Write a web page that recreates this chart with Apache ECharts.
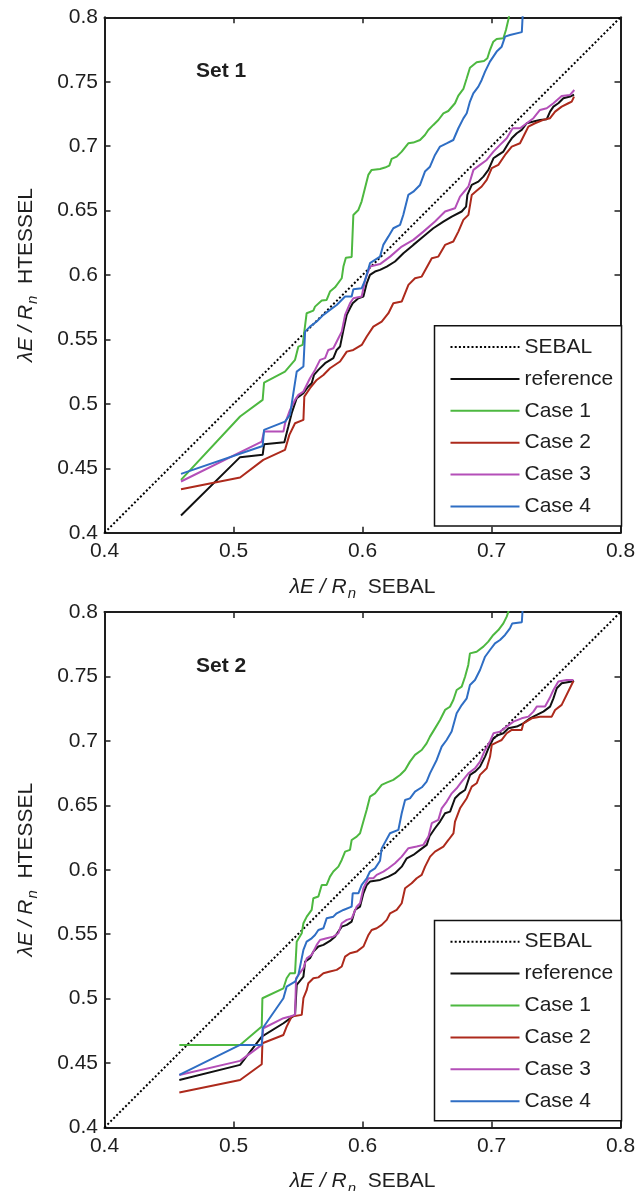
<!DOCTYPE html>
<html><head><meta charset="utf-8">
<script src="https://cdn.jsdelivr.net/npm/echarts@6/dist/echarts.min.js"></script>
<style>html,body{margin:0;padding:0;background:#fff}#c{width:638px;height:1191px}</style>
</head><body><div id="c"></div>
<script>
// ---------- data ----------
const xTicks = [0.4, 0.5, 0.6, 0.7, 0.8];
const yTicks = [0.4, 0.45, 0.5, 0.55, 0.6, 0.65, 0.7, 0.75, 0.8];
const seriesNames = ['SEBAL', 'reference', 'Case 1', 'Case 2', 'Case 3', 'Case 4'];
const panelTitles = ['Set 1', 'Set 2'];
const sebalLine = [[0.4, 0.4], [0.8, 0.8]];

const set1Ref = [[0.4593,0.4134],[0.5051,0.4587],[0.5226,0.4605],[0.5237,0.4687],[0.5394,0.4703],[0.5425,0.4824],[0.5451,0.4928],[0.5490,0.5045],[0.5542,0.5083],[0.5580,0.5135],[0.5606,0.5161],[0.5624,0.5225],[0.5658,0.5264],[0.5710,0.5316],[0.5774,0.5355],[0.5800,0.5419],[0.5826,0.5445],[0.5852,0.5574],[0.5878,0.5691],[0.5903,0.5742],[0.5924,0.5781],[0.5968,0.5820],[0.6007,0.5833],[0.6033,0.5936],[0.6058,0.6001],[0.6097,0.6027],[0.6136,0.6040],[0.6188,0.6066],[0.6252,0.6105],[0.6317,0.6169],[0.6394,0.6234],[0.6472,0.6299],[0.6549,0.6363],[0.6627,0.6415],[0.6692,0.6454],[0.6769,0.6493],[0.6803,0.6531],[0.6813,0.6622],[0.6847,0.6699],[0.6898,0.6725],[0.6937,0.6764],[0.6976,0.6816],[0.7015,0.6906],[0.7053,0.6932],[0.7092,0.6958],[0.7131,0.7023],[0.7157,0.7061],[0.7196,0.7100],[0.7234,0.7126],[0.7273,0.7178],[0.7325,0.7191],[0.7376,0.7204],[0.7428,0.7209],[0.7454,0.7268],[0.7480,0.7307],[0.7518,0.7333],[0.7557,0.7372],[0.7609,0.7385],[0.7640,0.7400]];
const set1Case1 = [[0.4593,0.4411],[0.5051,0.4902],[0.5226,0.5031],[0.5237,0.5166],[0.5399,0.5251],[0.5477,0.5342],[0.5503,0.5445],[0.5536,0.5458],[0.5567,0.5704],[0.5619,0.5724],[0.5632,0.5755],[0.5684,0.5802],[0.5722,0.5807],[0.5748,0.5872],[0.5787,0.5905],[0.5839,0.5975],[0.5852,0.6066],[0.5871,0.6135],[0.5916,0.6140],[0.5929,0.6466],[0.5968,0.6505],[0.5993,0.6570],[0.6019,0.6673],[0.6045,0.6777],[0.6071,0.6816],[0.6136,0.6823],[0.6174,0.6834],[0.6208,0.6849],[0.6226,0.6901],[0.6265,0.6919],[0.6304,0.6958],[0.6355,0.7022],[0.6394,0.7028],[0.6446,0.7048],[0.6484,0.7087],[0.6510,0.7126],[0.6549,0.7165],[0.6588,0.7203],[0.6627,0.7255],[0.6665,0.7273],[0.6717,0.7333],[0.6743,0.7392],[0.6782,0.7444],[0.6808,0.7527],[0.6833,0.7609],[0.6885,0.7651],[0.6942,0.7661],[0.6968,0.7682],[0.6988,0.7746],[0.7014,0.7811],[0.7040,0.7832],[0.7092,0.7837],[0.7112,0.7902],[0.7130,0.7979],[0.7150,0.8080]];
const set1Case2 = [[0.4593,0.4338],[0.5051,0.4429],[0.5231,0.4566],[0.5399,0.4643],[0.5433,0.4760],[0.5477,0.4850],[0.5542,0.4876],[0.5549,0.5057],[0.5593,0.5122],[0.5645,0.5186],[0.5697,0.5225],[0.5748,0.5277],[0.5826,0.5329],[0.5878,0.5406],[0.5929,0.5419],[0.5994,0.5458],[0.6033,0.5523],[0.6084,0.5600],[0.6149,0.5639],[0.6201,0.5704],[0.6239,0.5781],[0.6304,0.5794],[0.6356,0.5924],[0.6407,0.5975],[0.6459,0.5988],[0.6537,0.6131],[0.6588,0.6143],[0.6640,0.6234],[0.6704,0.6260],[0.6743,0.6337],[0.6782,0.6428],[0.6821,0.6467],[0.6847,0.6622],[0.6880,0.6650],[0.6924,0.6687],[0.6963,0.6738],[0.7002,0.6829],[0.7053,0.6855],[0.7105,0.6932],[0.7157,0.6997],[0.7221,0.7023],[0.7260,0.7100],[0.7286,0.7152],[0.7337,0.7178],[0.7402,0.7204],[0.7454,0.7217],[0.7493,0.7268],[0.7544,0.7307],[0.7596,0.7333],[0.7622,0.7346],[0.7640,0.7385]];
const set1Case3 = [[0.4593,0.4398],[0.5219,0.4708],[0.5237,0.4786],[0.5387,0.4786],[0.5400,0.4850],[0.5438,0.4954],[0.5477,0.5031],[0.5503,0.5070],[0.5542,0.5096],[0.5593,0.5199],[0.5632,0.5264],[0.5671,0.5342],[0.5710,0.5355],[0.5735,0.5419],[0.5774,0.5432],[0.5813,0.5510],[0.5839,0.5561],[0.5865,0.5691],[0.5903,0.5781],[0.5929,0.5820],[0.5994,0.5833],[0.6020,0.5962],[0.6058,0.6066],[0.6136,0.6085],[0.6214,0.6143],[0.6304,0.6221],[0.6394,0.6273],[0.6472,0.6337],[0.6562,0.6415],[0.6640,0.6493],[0.6717,0.6518],[0.6756,0.6609],[0.6821,0.6687],[0.6860,0.6816],[0.6911,0.6855],[0.6963,0.6893],[0.7015,0.6958],[0.7066,0.7010],[0.7118,0.7061],[0.7164,0.7139],[0.7221,0.7139],[0.7273,0.7178],[0.7325,0.7217],[0.7376,0.7281],[0.7428,0.7294],[0.7480,0.7333],[0.7544,0.7390],[0.7609,0.7398],[0.7642,0.7436]];
const set1Case4 = [[0.4593,0.4457],[0.5226,0.4674],[0.5237,0.4799],[0.5399,0.4863],[0.5438,0.4915],[0.5490,0.5251],[0.5542,0.5290],[0.5555,0.5561],[0.5593,0.5600],[0.5645,0.5639],[0.5697,0.5691],[0.5748,0.5730],[0.5800,0.5768],[0.5865,0.5833],[0.5916,0.5833],[0.5929,0.5890],[0.5994,0.5898],[0.6020,0.5960],[0.6058,0.6092],[0.6097,0.6118],[0.6136,0.6143],[0.6161,0.6234],[0.6200,0.6298],[0.6239,0.6363],[0.6291,0.6389],[0.6316,0.6466],[0.6355,0.6622],[0.6394,0.6647],[0.6446,0.6699],[0.6484,0.6803],[0.6523,0.6841],[0.6562,0.6932],[0.6601,0.6997],[0.6652,0.7022],[0.6704,0.7048],[0.6743,0.7139],[0.6782,0.7216],[0.6808,0.7255],[0.6833,0.7346],[0.6859,0.7410],[0.6898,0.7462],[0.6924,0.7514],[0.6950,0.7578],[0.6988,0.7656],[0.7040,0.7734],[0.7079,0.7772],[0.7105,0.7850],[0.7143,0.7863],[0.7235,0.7885],[0.7245,0.8080]];

const set2Ref = [[0.4580,0.4369],[0.5051,0.4486],[0.5219,0.4705],[0.5387,0.4809],[0.5477,0.4874],[0.5490,0.5106],[0.5542,0.5171],[0.5555,0.5287],[0.5593,0.5313],[0.5619,0.5365],[0.5658,0.5404],[0.5697,0.5417],[0.5748,0.5448],[0.5787,0.5481],[0.5839,0.5559],[0.5878,0.5572],[0.5916,0.5598],[0.5942,0.5688],[0.5981,0.5714],[0.6007,0.5817],[0.6033,0.5882],[0.6058,0.5908],[0.6136,0.5921],[0.6201,0.5947],[0.6252,0.5973],[0.6304,0.6024],[0.6343,0.6089],[0.6394,0.6115],[0.6446,0.6154],[0.6498,0.6193],[0.6520,0.6260],[0.6562,0.6322],[0.6601,0.6374],[0.6640,0.6438],[0.6679,0.6451],[0.6717,0.6555],[0.6756,0.6593],[0.6795,0.6619],[0.6834,0.6736],[0.6872,0.6761],[0.6911,0.6800],[0.6950,0.6878],[0.6976,0.6942],[0.7015,0.7020],[0.7053,0.7046],[0.7092,0.7059],[0.7131,0.7098],[0.7196,0.7111],[0.7247,0.7136],[0.7299,0.7175],[0.7351,0.7201],[0.7402,0.7227],[0.7454,0.7266],[0.7480,0.7330],[0.7506,0.7408],[0.7544,0.7447],[0.7622,0.7460],[0.7640,0.7465]];
const set2Case1 = [[0.4580,0.4641],[0.5051,0.4641],[0.5219,0.4783],[0.5224,0.5003],[0.5387,0.5080],[0.5412,0.5158],[0.5438,0.5197],[0.5477,0.5197],[0.5490,0.5442],[0.5529,0.5507],[0.5542,0.5585],[0.5568,0.5636],[0.5606,0.5688],[0.5619,0.5779],[0.5658,0.5792],[0.5684,0.5882],[0.5722,0.5882],[0.5748,0.5947],[0.5774,0.5986],[0.5813,0.6024],[0.5839,0.6076],[0.5865,0.6141],[0.5903,0.6154],[0.5916,0.6231],[0.5955,0.6257],[0.5981,0.6283],[0.6006,0.6373],[0.6032,0.6464],[0.6058,0.6567],[0.6097,0.6593],[0.6149,0.6658],[0.6187,0.6676],[0.6239,0.6697],[0.6291,0.6735],[0.6330,0.6774],[0.6368,0.6839],[0.6407,0.6891],[0.6459,0.6929],[0.6497,0.6981],[0.6523,0.7033],[0.6562,0.7097],[0.6601,0.7162],[0.6640,0.7240],[0.6678,0.7265],[0.6704,0.7317],[0.6730,0.7395],[0.6769,0.7421],[0.6795,0.7498],[0.6820,0.7589],[0.6833,0.7679],[0.6885,0.7692],[0.6937,0.7731],[0.6975,0.7770],[0.7014,0.7822],[0.7053,0.7860],[0.7092,0.7912],[0.7118,0.7964],[0.7150,0.8060]];
const set2Case2 = [[0.4580,0.4271],[0.5051,0.4369],[0.5219,0.4491],[0.5224,0.4654],[0.5387,0.4718],[0.5412,0.4783],[0.5451,0.4861],[0.5529,0.4874],[0.5542,0.5003],[0.5568,0.5068],[0.5580,0.5119],[0.5619,0.5158],[0.5658,0.5165],[0.5697,0.5197],[0.5748,0.5210],[0.5800,0.5223],[0.5839,0.5249],[0.5865,0.5326],[0.5903,0.5352],[0.5955,0.5365],[0.6007,0.5404],[0.6046,0.5494],[0.6071,0.5533],[0.6110,0.5546],[0.6149,0.5572],[0.6188,0.5611],[0.6214,0.5662],[0.6265,0.5688],[0.6304,0.5740],[0.6330,0.5856],[0.6381,0.5895],[0.6420,0.5934],[0.6459,0.5960],[0.6485,0.6024],[0.6524,0.6102],[0.6562,0.6141],[0.6627,0.6180],[0.6666,0.6231],[0.6705,0.6283],[0.6717,0.6374],[0.6756,0.6477],[0.6808,0.6555],[0.6847,0.6645],[0.6885,0.6671],[0.6911,0.6736],[0.6963,0.6787],[0.6989,0.6878],[0.7002,0.6968],[0.7040,0.6989],[0.7079,0.7007],[0.7118,0.7059],[0.7157,0.7085],[0.7234,0.7085],[0.7247,0.7136],[0.7312,0.7175],[0.7376,0.7188],[0.7467,0.7188],[0.7493,0.7240],[0.7544,0.7279],[0.7635,0.7465]];
const set2Case3 = [[0.4580,0.4408],[0.5051,0.4517],[0.5219,0.4641],[0.5231,0.4770],[0.5387,0.4848],[0.5438,0.4861],[0.5477,0.4874],[0.5485,0.5158],[0.5542,0.5236],[0.5568,0.5313],[0.5606,0.5339],[0.5645,0.5417],[0.5671,0.5455],[0.5722,0.5468],[0.5774,0.5481],[0.5813,0.5507],[0.5839,0.5585],[0.5878,0.5611],[0.5916,0.5623],[0.5955,0.5714],[0.5981,0.5740],[0.6007,0.5856],[0.6046,0.5934],[0.6084,0.5934],[0.6110,0.5960],[0.6162,0.5985],[0.6201,0.6012],[0.6252,0.6050],[0.6304,0.6102],[0.6356,0.6167],[0.6420,0.6180],[0.6472,0.6193],[0.6511,0.6257],[0.6537,0.6361],[0.6588,0.6387],[0.6614,0.6477],[0.6653,0.6529],[0.6692,0.6593],[0.6730,0.6632],[0.6769,0.6684],[0.6821,0.6748],[0.6872,0.6787],[0.6911,0.6839],[0.6950,0.6930],[0.6990,0.7000],[0.7015,0.7059],[0.7066,0.7072],[0.7118,0.7111],[0.7170,0.7149],[0.7234,0.7175],[0.7286,0.7188],[0.7325,0.7227],[0.7351,0.7266],[0.7415,0.7266],[0.7450,0.7330],[0.7480,0.7395],[0.7518,0.7460],[0.7583,0.7473],[0.7635,0.7473]];
const set2Case4 = [[0.4580,0.4408],[0.5051,0.4641],[0.5219,0.4641],[0.5226,0.4770],[0.5387,0.5003],[0.5412,0.5093],[0.5477,0.5132],[0.5503,0.5184],[0.5542,0.5378],[0.5567,0.5442],[0.5606,0.5468],[0.5632,0.5494],[0.5658,0.5533],[0.5697,0.5546],[0.5722,0.5623],[0.5774,0.5636],[0.5800,0.5662],[0.5852,0.5688],[0.5916,0.5714],[0.5924,0.5817],[0.5968,0.5817],[0.5994,0.5882],[0.6033,0.5934],[0.6058,0.5986],[0.6097,0.6011],[0.6136,0.6070],[0.6149,0.6166],[0.6213,0.6283],[0.6278,0.6309],[0.6304,0.6438],[0.6330,0.6541],[0.6368,0.6554],[0.6407,0.6606],[0.6460,0.6640],[0.6497,0.6684],[0.6523,0.6748],[0.6575,0.6852],[0.6614,0.6955],[0.6652,0.7007],[0.6691,0.7072],[0.6730,0.7214],[0.6769,0.7278],[0.6808,0.7330],[0.6833,0.7434],[0.6872,0.7472],[0.6911,0.7550],[0.6950,0.7653],[0.6988,0.7705],[0.7027,0.7757],[0.7066,0.7783],[0.7105,0.7822],[0.7143,0.7873],[0.7160,0.7910],[0.7235,0.7920],[0.7245,0.8080]];

// ---------- styling ----------
const FONT = '"Liberation Sans", Arial, Helvetica, sans-serif';
const INK = '#1e1e1e';
const colors = { 'SEBAL': '#111', 'reference': '#111', 'Case 1': '#4db840', 'Case 2': '#ad2a1c', 'Case 3': '#b44fb8', 'Case 4': '#2f6ec4' };
const panels = [
  { top: 17.3, data: { 'SEBAL': sebalLine, 'reference': set1Ref, 'Case 1': set1Case1, 'Case 2': set1Case2, 'Case 3': set1Case3, 'Case 4': set1Case4 } },
  { top: 612,  data: { 'SEBAL': sebalLine, 'reference': set2Ref, 'Case 1': set2Case1, 'Case 2': set2Case2, 'Case 3': set2Case3, 'Case 4': set2Case4 } }
];
const GL = 104.5, GW = 516, GH = 515.5;
const fmt = (v) => String(Math.round(v * 100) / 100);

const nameRich = {
  it:  { fontFamily: FONT, fontSize: 21, fontStyle: 'italic', color: INK },
  sub: { fontFamily: FONT, fontSize: 15, fontStyle: 'italic', color: INK, padding: [14, 0, 0, 1] },
  rm:  { fontFamily: FONT, fontSize: 21, color: INK }
};
const axisName = (t) => '{it|λE / R}{sub|n}{rm|  ' + t + '}';
const axisLineStyle = { show: true, lineStyle: { color: INK, width: 2 } };
const tickStyle = { show: true, inside: true, length: 6, lineStyle: { color: INK, width: 1.5 } };

const grid = [], xAxis = [], yAxis = [], series = [], legend = [], title = [];
panels.forEach((p, i) => {
  grid.push({ left: GL, top: p.top, width: GW, height: GH, outerBoundsMode: 'none', containLabel: false });
  const xBase = { type: 'value', gridIndex: i, min: xTicks[0], max: xTicks[xTicks.length - 1],
    interval: Math.round((xTicks[1] - xTicks[0]) * 100) / 100,
    axisLine: axisLineStyle, axisTick: tickStyle, splitLine: { show: false } };
  const yBase = { type: 'value', gridIndex: i, min: yTicks[0], max: yTicks[yTicks.length - 1],
    interval: Math.round((yTicks[1] - yTicks[0]) * 100) / 100,
    axisLine: axisLineStyle, axisTick: tickStyle, splitLine: { show: false } };
  xAxis.push(Object.assign({}, xBase, { position: 'bottom',
    axisLabel: { margin: 8, fontSize: 21, color: INK, fontFamily: FONT, formatter: fmt, showMinLabel: true, showMaxLabel: true },
    name: axisName('SEBAL'), nameLocation: 'middle', nameGap: 39.5, nameMoveOverlap: false,
    nameTextStyle: { rich: nameRich } }));
  xAxis.push(Object.assign({}, xBase, { position: 'top', axisLabel: { show: false } }));
  yAxis.push(Object.assign({}, yBase, { position: 'left',
    axisLabel: { margin: 6.5, fontSize: 21, color: INK, fontFamily: FONT, formatter: fmt, showMinLabel: true, showMaxLabel: true },
    name: axisName('HTESSEL'), nameLocation: 'middle', nameRotate: 90, nameGap: 64, nameMoveOverlap: false,
    nameTextStyle: { rich: nameRich } }));
  yAxis.push(Object.assign({}, yBase, { position: 'right', axisLabel: { show: false } }));

  seriesNames.forEach((n) => {
    series.push({
      name: n, type: 'line', xAxisIndex: 2 * i, yAxisIndex: 2 * i, data: p.data[n],
      symbol: 'none', showSymbol: false, silent: true, clip: true, animation: false,
      color: colors[n],
      lineStyle: n === 'SEBAL' ? { color: '#000', width: 2, type: [2, 2.2] } : { color: colors[n], width: 2 }
    });
  });

  legend.push({
    data: seriesNames, orient: 'vertical', left: 434.5, top: p.top + 308.4,
    itemWidth: 69, itemHeight: 14, itemGap: 10.9, padding: [10.8, 8.3, 9, 15],
    borderColor: '#111', borderWidth: 1.5, backgroundColor: '#fff', borderRadius: 0,
    selectedMode: false,
    itemStyle: { opacity: 0, borderWidth: 0 },
    textStyle: { fontSize: 21, lineHeight: 21, color: INK, fontFamily: FONT }
  });

  title.push({ text: panelTitles[i], left: 196, top: p.top + 43.8, padding: 0,
    textStyle: { fontSize: 21, lineHeight: 21, fontWeight: 'bold', color: INK, fontFamily: FONT } });
});

const chart = echarts.init(document.getElementById('c'), null, { renderer: 'canvas' });
chart.setOption({ animation: false, backgroundColor: '#fff', textStyle: { fontFamily: FONT }, grid, xAxis, yAxis, series, legend, title });
</script></body></html>
